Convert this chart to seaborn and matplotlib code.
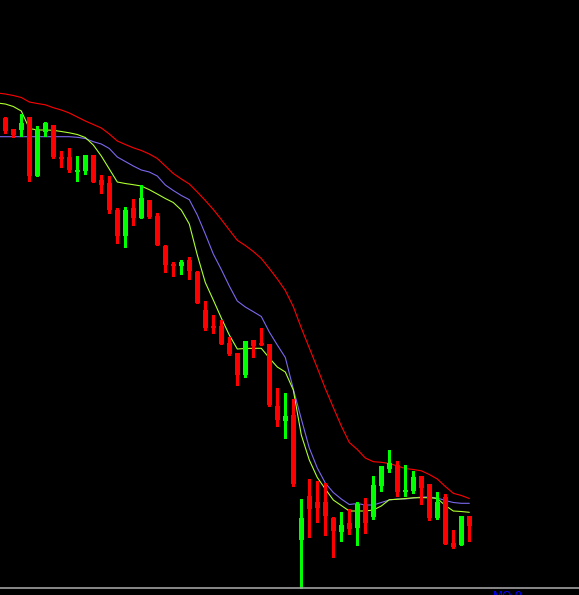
# Candlestick chart with three moving averages, dark trading-terminal look

import numpy as np
import pandas as pd
import matplotlib
matplotlib.use("Agg")
import matplotlib.pyplot as plt
import seaborn as sns

# ── Data (price levels, larger = lower on screen) ──
opens  = [118, 129, 130, 117, 176, 132, 125, 157, 157, 171,
          171, 155, 180, 183, 210, 236, 208, 218, 200, 216,
          246, 264, 266, 260, 272, 310, 326, 326, 343, 353,
          375, 340, 343, 344, 406, 421, 415, 540, 496, 502,
          502, 518, 532, 523, 528, 504, 517, 486, 469, 465,
          492, 491, 476, 484, 518, 497, 543, 545, 516]
highs  = [117, 129, 114, 117, 126, 122, 125, 151, 148, 156,
          155, 155, 175, 176, 208, 207, 199, 185, 200, 213,
          245, 262, 260, 257, 271, 301, 315, 320, 337, 353,
          341, 340, 328, 344, 388, 393, 399, 499, 479, 481,
          483, 517, 512, 509, 502, 498, 476, 466, 450, 461,
          465, 471, 476, 484, 492, 494, 530, 516, 516]
lows   = [133, 137, 136, 181, 176, 136, 158, 167, 172, 181,
          174, 182, 193, 213, 243, 247, 225, 218, 218, 245,
          272, 276, 274, 279, 303, 330, 333, 344, 355, 385,
          377, 357, 345, 406, 426, 438, 486, 588, 537, 522,
          535, 557, 541, 534, 545, 533, 519, 491, 472, 496,
          496, 493, 504, 520, 519, 544, 548, 545, 541]
closes = [131, 135, 123, 176, 129, 123, 157, 158, 170, 170,
          155, 182, 185, 210, 236, 210, 218, 198, 217, 245,
          265, 266, 262, 271, 303, 328, 328, 344, 354, 375,
          341, 346, 345, 405, 420, 416, 484, 518, 509, 508,
          516, 531, 525, 529, 504, 523, 485, 466, 463, 492,
          490, 477, 488, 518, 502, 544, 547, 516, 526]

# moving averages, first value is the bar just before the visible window
ma_fast = [103,
           104, 106.5, 111, 128.5, 130, 130, 130.3, 131.5, 132.8, 134.5,
           137.5, 145, 156, 169, 182, 183.5, 184.7, 186, 189.7, 194,
           198.5, 202.5, 210, 224, 255, 282.5, 300, 318, 335, 349,
           348.5, 348.3, 348.3, 358, 367, 372, 390, 435, 460, 477.5,
           489, 500, 505.5, 511, 511, 511, 510, 506, 499.7, 499.3,
           498.5, 497.8, 497.7, 497.7, 498.5, 505.5, 511, 511.5, 512.3]
ma_mid  = [136.7,
           136.7, 136.7, 136.7, 136.7, 136.7, 136.7, 136.7, 136.7, 136.7, 137.3,
           138.5, 141.7, 144, 148.5, 157, 161.5, 166, 170, 172, 176,
           185, 190.5, 195.5, 199.7, 215, 234, 254, 269.5, 286, 301,
           307, 311.7, 316.5, 332, 345, 357.5, 389, 419, 448, 468,
           483, 492.5, 499, 504.5, 503.5, 505, 505, 502.5, 500, 499,
           499, 498, 497, 497, 498, 500.5, 502.5, 503.3, 503.3]
ma_slow = [93,
           94, 95.5, 97.5, 102, 103.5, 104.8, 107.7, 110, 113, 117,
           121, 124.5, 128, 134, 141, 144.5, 147.8, 150.5, 154, 158.5,
           166, 173.5, 179, 184, 192, 200.5, 209.5, 219.5, 230, 240.3,
           245.5, 251.5, 258.5, 268.5, 279, 290.5, 306.7, 328, 348, 368,
           388.5, 407.5, 426, 442.5, 449.5, 458, 461.7, 462.3, 463.5, 466,
           468.5, 469.5, 470.8, 474.5, 479, 486.5, 493.3, 495.5, 498.5]

df = pd.DataFrame({"open": opens, "high": highs, "low": lows, "close": closes})
df["bar"] = np.arange(len(df))
ma = pd.DataFrame({"bar": np.arange(-1, len(df)),
                   "fast": ma_fast, "mid": ma_mid, "slow": ma_slow})

# ── Style ──────────────────────────────────────────────────
sns.set_theme(style="dark")
BG    = "#000000"
UP    = "#00FF00"
DOWN  = "#FF0000"
FAST  = "#ADFF2F"
MID   = "#7B68EE"
SLOW  = "#FF0000"

fig = plt.figure(figsize=(5.79, 5.95), dpi=100, facecolor=BG)
ax = fig.add_axes([0, 0, 1, 1])
ax.set_facecolor(BG)

# moving averages (thin 1 px lines)
for col, c in [("slow", SLOW), ("mid", MID), ("fast", FAST)]:
    sns.lineplot(data=ma, x="bar", y=col, ax=ax, color=c,
                 linewidth=0.8, zorder=2)

# candles: wick + body
up = df["close"] <= df["open"]   # smaller value = higher price on screen
colors = np.where(up, UP, DOWN)
ax.vlines(df["bar"], df["high"], df["low"], colors=colors,
          linewidth=0.9, antialiased=False, zorder=3)
body_top = df[["open", "close"]].min(axis=1)
body_h = (df["open"] - df["close"]).abs().clip(lower=1.5)
ax.bar(df["bar"], body_h, bottom=body_top, width=0.7, color=colors,
       linewidth=0, antialiased=False, zorder=4)

# terminal window: 8 px per bar, first bar centred at x = 5 px
ax.set_xlim(-5.3 / 8, (579 - 5.3) / 8)
ax.set_ylim(595, 0)
ax.axhline(588, color="#A0A0A0", linewidth=1.2, zorder=5)
ax.text((493 - 5.3) / 8, 589.5, "MO.0", color="#0000FF",
        fontsize=8.6, ha="left", va="top", zorder=6)

ax.set_axis_off()
fig.savefig("out.png", dpi=100, facecolor=BG)
